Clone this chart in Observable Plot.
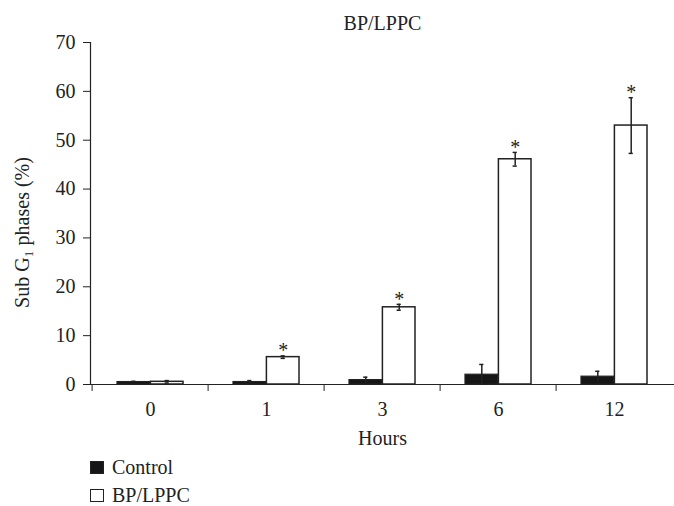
<!DOCTYPE html>
<html><head><meta charset="utf-8">
<script src="https://cdn.jsdelivr.net/npm/d3@7"></script>
<script src="https://cdn.jsdelivr.net/npm/@observablehq/plot@0.6"></script>
<style>
body{margin:0;background:#fff;font-family:"Liberation Serif",serif;color:#222}
#legend{margin-left:90px}
.row{display:flex;align-items:center;height:28px;font-size:20px;line-height:20px}
.sw{width:14px;height:13px;box-sizing:border-box;border:1.5px solid #222;margin-right:8px}
</style></head><body>
<div id="chart" style="height:453px;overflow:hidden"></div><div id="legend"></div>
<script>
const title = "BP/LPPC";
const hours = ["0", "1", "3", "6", "12"];
const series = ["Control", "BP/LPPC"];
const control = [0.5, 0.5, 0.9, 2.0, 1.6];
const controlErr = [0.15, 0.3, 0.6, 2.1, 1.1];
const bp = [0.55, 5.6, 15.8, 46.1, 53.0];
const bpErr = [0.25, 0.25, 0.6, 1.4, 5.7];
const significant = [false, true, true, true, true];
const yTicks = [0, 10, 20, 30, 40, 50, 60, 70];
const xLabel = "Hours";
const yLabel = "Sub G\u2081 phases (%)";

const rows = hours.flatMap((h, i) => [
  {hour: h, series: series[0], value: control[i], err: controlErr[i], star: false},
  {hour: h, series: series[1], value: bp[i], err: bpErr[i], star: significant[i]}
]);
const ctrl = rows.filter(d => d.series === series[0]);
const trt = rows.filter(d => d.series === series[1]);

const W = 674, ML = 90, MR = 0;
const band = (W - ML - MR) / hours.length;
const half = band / 2;
const off = 16.7;        // bar centre offset from band centre
const barW = 33.4;
const ink = "#222";

const chart = Plot.plot({
  width: W, height: 453,
  marginLeft: ML, marginRight: MR, marginTop: 42, marginBottom: 69,
  style: {fontFamily: "Liberation Serif", fontSize: "20px", color: ink, background: "#fff"},
  x: {domain: hours, padding: 0, axis: null},
  y: {domain: [0, 70], axis: null},
  color: {domain: series, range: ["#161616", "#ffffff"]},
  marks: [
    Plot.axisY({ticks: yTicks, tickSize: 7, tickPadding: 8, label: null}),
    Plot.axisX({tickSize: 0, tickPadding: 17, label: null}),
    Plot.axisX({tickSize: 7, tickFormat: () => "", dx: -half, label: null}),
    Plot.frame({anchor: "left", stroke: ink, strokeWidth: 1.2}),
    Plot.barY(ctrl, {x: "hour", y: "value", fill: "series", stroke: ink, strokeWidth: 1.2,
      insetLeft: half - off - barW / 2, insetRight: half + off - barW / 2}),
    Plot.barY(trt, {x: "hour", y: "value", fill: "series", stroke: ink, strokeWidth: 1.5,
      insetLeft: half + off - barW / 2, insetRight: half - off - barW / 2}),
    Plot.ruleY([0], {stroke: ink, strokeWidth: 1.2}),
    Plot.ruleX(ctrl, {x: "hour", y1: d => d.value - d.err, y2: d => d.value + d.err, dx: -off, stroke: ink, strokeWidth: 1.5}),
    Plot.ruleX(trt, {x: "hour", y1: d => d.value - d.err, y2: d => d.value + d.err, dx: off, stroke: ink, strokeWidth: 1.5}),
    Plot.tickY(ctrl, {x: "hour", y: d => d.value + d.err, dx: -off, inset: half - 2.5, stroke: ink, strokeWidth: 1.5}),
    Plot.tickY(trt, {x: "hour", y: d => d.value + d.err, dx: off, inset: half - 2.5, stroke: ink, strokeWidth: 1.5}),
    Plot.tickY(trt, {x: "hour", y: d => d.value - d.err, dx: off, inset: half - 2.5, stroke: ink, strokeWidth: 1.5}),
    Plot.text(trt.filter(d => d.star), {x: "hour", y: d => d.value + d.err, text: () => "*", dx: off, dy: -5, fontSize: 20, fill: ink}),
    Plot.text([title], {frameAnchor: "top", lineAnchor: "middle", dy: -19, fontSize: 20, fill: ink}),
    Plot.text([xLabel], {frameAnchor: "bottom", lineAnchor: "middle", dy: 54, fontSize: 20, fill: ink}),
    Plot.text([yLabel], {frameAnchor: "left", textAnchor: "middle", lineAnchor: "middle", rotate: -90, dx: -68, dy: 19, fontSize: 20, fill: ink})
  ]
});
document.getElementById("chart").append(chart);

const color = chart.scale("color");
const legend = document.getElementById("legend");
for (const s of series) {
  const row = document.createElement("div");
  row.className = "row";
  const sw = document.createElement("span");
  sw.className = "sw";
  sw.style.background = color.apply(s);
  row.append(sw, document.createTextNode(s));
  legend.append(row);
}
</script>
</body></html>
